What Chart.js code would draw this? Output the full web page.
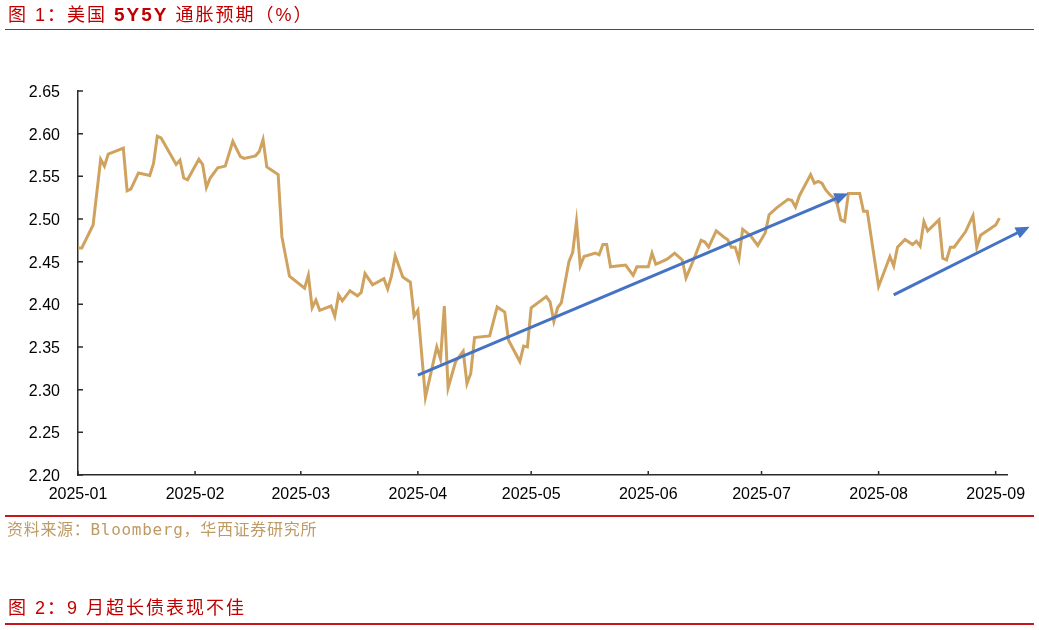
<!DOCTYPE html>
<html><head><meta charset="utf-8">
<script src="https://cdn.jsdelivr.net/npm/chart.js@4.4.1/dist/chart.umd.min.js"></script>
<style>
html,body{margin:0;padding:0;background:#fff;width:1039px;height:630px;overflow:hidden;position:relative}
.t{position:absolute;left:8px;font-family:'Liberation Sans','Noto Sans CJK SC',sans-serif;font-size:18px;letter-spacing:2px;color:#C00000;line-height:20px;white-space:nowrap}
.t b{font-size:19px;font-weight:bold}
.rl{position:absolute;left:5px;width:1029px;height:1.5px;background:#C8161D}
.src{position:absolute;left:7px;top:520px;font-family:'DejaVu Sans Mono','Noto Sans CJK SC',monospace;font-size:16px;letter-spacing:0.7px;color:#BE9A64;line-height:20px;white-space:nowrap}
#c{position:absolute;left:0;top:0}
</style></head>
<body>
<canvas id="c" width="1039" height="630"></canvas>
<div class="t" style="top:5px">图 1：美国 <b>5Y5Y</b> 通胀预期（%）</div>
<div class="rl" style="top:28.5px"></div>
<div class="rl" style="top:515px"></div>
<div class="src">资料来源：Bloomberg，华西证券研究所</div>
<div class="t" style="top:598px">图 2：9 月超长债表现不佳</div>
<div class="rl" style="top:623px"></div>
<script>
const tickLabels = ['2025-01','2025-02','2025-03','2025-04','2025-05','2025-06','2025-07','2025-08','2025-09'];
const yTicks = [2.20,2.25,2.30,2.35,2.40,2.45,2.50,2.55,2.60,2.65];
const axisEndDate = '2025-09-04';

const dates = [
'2025-01-01','2025-01-02','2025-01-05','2025-01-07','2025-01-08','2025-01-09','2025-01-13','2025-01-14','2025-01-15','2025-01-17',
'2025-01-20','2025-01-21','2025-01-22','2025-01-23','2025-01-27','2025-01-28','2025-01-29','2025-01-30',
'2025-02-02','2025-02-03','2025-02-04','2025-02-05','2025-02-07','2025-02-09','2025-02-11','2025-02-13','2025-02-14',
'2025-02-17','2025-02-18','2025-02-19','2025-02-20','2025-02-23','2025-02-24','2025-02-26',
'2025-03-02','2025-03-03','2025-03-04','2025-03-05','2025-03-06','2025-03-09','2025-03-10','2025-03-11','2025-03-12','2025-03-14',
'2025-03-16','2025-03-17','2025-03-18','2025-03-20','2025-03-23','2025-03-24','2025-03-25','2025-03-26','2025-03-28','2025-03-30','2025-03-31',
'2025-04-01','2025-04-03','2025-04-06','2025-04-07','2025-04-08','2025-04-09','2025-04-11','2025-04-13','2025-04-14','2025-04-15',
'2025-04-16','2025-04-20','2025-04-22','2025-04-24','2025-04-25','2025-04-28','2025-04-29','2025-04-30',
'2025-05-01','2025-05-05','2025-05-06','2025-05-07','2025-05-08','2025-05-09','2025-05-11','2025-05-12','2025-05-13','2025-05-14',
'2025-05-15','2025-05-18','2025-05-19','2025-05-20','2025-05-21','2025-05-22','2025-05-26','2025-05-28','2025-05-29',
'2025-06-01','2025-06-02','2025-06-03','2025-06-04','2025-06-06','2025-06-08','2025-06-10','2025-06-11','2025-06-13','2025-06-15',
'2025-06-16','2025-06-17','2025-06-19','2025-06-21','2025-06-22','2025-06-23','2025-06-24','2025-06-25','2025-06-26','2025-06-28','2025-06-30',
'2025-07-02','2025-07-03','2025-07-05','2025-07-08','2025-07-09','2025-07-10','2025-07-11','2025-07-14','2025-07-15','2025-07-16',
'2025-07-17','2025-07-18','2025-07-19','2025-07-20','2025-07-21','2025-07-22','2025-07-23','2025-07-24','2025-07-27','2025-07-28','2025-07-29',
'2025-08-01','2025-08-04','2025-08-05','2025-08-06','2025-08-08','2025-08-10','2025-08-11','2025-08-12','2025-08-13','2025-08-14',
'2025-08-17','2025-08-18','2025-08-19','2025-08-20','2025-08-21','2025-08-24','2025-08-26','2025-08-27','2025-08-28',
'2025-09-01','2025-09-02'
];
const values = [
2.466,2.466,2.493,2.570,2.562,2.576,2.583,2.533,2.535,2.554,
2.551,2.565,2.597,2.595,2.564,2.569,2.548,2.546,
2.570,2.564,2.537,2.548,2.560,2.562,2.591,2.573,2.571,
2.574,2.579,2.593,2.561,2.552,2.479,2.433,
2.419,2.434,2.396,2.405,2.393,2.398,2.386,2.411,2.404,2.416,
2.410,2.414,2.436,2.423,2.430,2.418,2.433,2.457,2.432,2.426,2.386,
2.393,2.291,2.350,2.336,2.398,2.302,2.333,2.345,2.307,2.319,
2.361,2.363,2.397,2.391,2.358,2.333,2.351,2.350,
2.396,2.409,2.403,2.380,2.396,2.402,2.450,2.461,2.497,2.445,
2.456,2.460,2.458,2.470,2.470,2.444,2.446,2.434,2.444,
2.444,2.460,2.447,2.449,2.453,2.460,2.452,2.431,2.452,2.475,
2.473,2.467,2.486,2.479,2.476,2.467,2.467,2.453,2.488,2.481,2.469,
2.484,2.505,2.513,2.523,2.522,2.514,2.527,2.552,2.542,2.544,
2.542,2.534,2.529,2.525,2.518,2.499,2.497,2.530,2.530,2.509,2.509,
2.421,2.456,2.445,2.467,2.476,2.470,2.474,2.468,2.497,2.486,
2.499,2.454,2.452,2.467,2.467,2.485,2.504,2.467,2.481,
2.493,2.501
];

const arrowStartDates = ['2025-04-01','2025-08-05'];
const arrowStartValues = [2.317, 2.411];
const arrowEndDates = ['2025-07-24','2025-09-10'];
const arrowEndValues = [2.530, 2.491];

function dayOf(s){
  const p = s.split('-').map(Number);
  return (Date.UTC(p[0], p[1]-1, p[2] || 1) - Date.UTC(2025,0,1)) / 86400000;
}

const AXIS = '#2b2b2b';

const inTicks = {
  id:'inTicks',
  afterDraw(chart){
    const {ctx, scales:{x, y}, chartArea:a} = chart;
    ctx.save();
    ctx.strokeStyle = AXIS; ctx.lineWidth = 1.5;
    ctx.beginPath();
    x.ticks.forEach(t => { const px = x.getPixelForValue(t.value); ctx.moveTo(px, a.bottom); ctx.lineTo(px, a.bottom - 4); });
    y.ticks.forEach(t => { const py = y.getPixelForValue(t.value); ctx.moveTo(a.left, py); ctx.lineTo(a.left + 5, py); });
    ctx.stroke();
    ctx.restore();
  }
};

const arrows = {
  id:'arrows',
  afterDatasetsDraw(chart){
    const {ctx, scales:{x, y}} = chart;
    ctx.save();
    ctx.strokeStyle = '#4472C4'; ctx.fillStyle = '#4472C4'; ctx.lineWidth = 3;
    for (let i = 0; i < arrowStartDates.length; i++){
      const x1 = x.getPixelForValue(dayOf(arrowStartDates[i])), y1 = y.getPixelForValue(arrowStartValues[i]);
      const x2 = x.getPixelForValue(dayOf(arrowEndDates[i])), y2 = y.getPixelForValue(arrowEndValues[i]);
      const ang = Math.atan2(y2 - y1, x2 - x1), L = 14, W = 6;
      const bx = x2 - L * Math.cos(ang), by = y2 - L * Math.sin(ang);
      ctx.beginPath(); ctx.moveTo(x1, y1); ctx.lineTo(bx + Math.cos(ang), by + Math.sin(ang)); ctx.stroke();
      ctx.beginPath();
      ctx.moveTo(x2, y2);
      ctx.lineTo(bx + W * Math.sin(ang), by - W * Math.cos(ang));
      ctx.lineTo(bx - W * Math.sin(ang), by + W * Math.cos(ang));
      ctx.closePath(); ctx.fill();
    }
    ctx.restore();
  }
};

new Chart(document.getElementById('c'), {
  type:'line',
  data:{datasets:[{
    data: dates.map((d, i) => ({x: dayOf(d), y: values[i]})),
    borderColor:'#CFA35F', borderWidth:3, pointRadius:0, tension:0, fill:false
  }]},
  options:{
    responsive:false, animation:false, devicePixelRatio:1,
    layout:{padding:{left:0, top:91, right:32, bottom:0}},
    plugins:{legend:{display:false}, tooltip:{enabled:false}},
    scales:{
      x:{
        type:'linear', min:0, max:dayOf(axisEndDate),
        afterBuildTicks: s => { s.ticks = tickLabels.map(t => ({value: dayOf(t)})); },
        afterFit: s => { s.height = 155; },
        grid:{display:false, drawTicks:false},
        border:{display:true, color:AXIS, width:1.5},
        ticks:{autoSkip:false, maxRotation:0, minRotation:0, padding:10, color:'#000',
          font:{family:'Liberation Sans', size:16}, callback:(v, i) => tickLabels[i]}
      },
      y:{
        type:'linear', min:2.2, max:2.65,
        afterBuildTicks: s => { s.ticks = yTicks.map(v => ({value: v})); },
        afterFit: s => { s.width = 78; },
        grid:{display:false, drawTicks:false},
        border:{display:true, color:AXIS, width:1.5},
        ticks:{padding:18, labelOffset:1.5, color:'#000', font:{family:'Liberation Sans', size:16},
          callback: v => Number(v).toFixed(2)}
      }
    }
  },
  plugins:[inTicks, arrows]
});
</script>
</body></html>
